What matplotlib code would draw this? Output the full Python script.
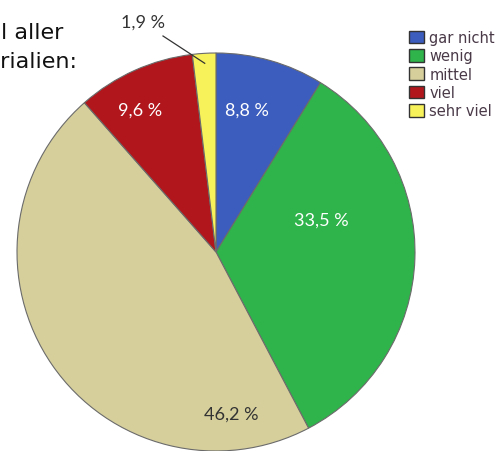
import numpy as np
import matplotlib.pyplot as plt
from matplotlib.patches import Patch

categories = ["gar nicht", "wenig", "mittel", "viel", "sehr viel"]
values = [8.8, 33.5, 46.2, 9.6, 1.9]
colors = ["#3c5cbe", "#2eb44a", "#d6cf9c", "#b0161c", "#f8f25a"]
title_lines = ["Anteil aller", "Materialien:"]

W, H = 501, 452
CX, CY, R = 216, 253, 199


def px(x, y):
    # pixel position (from top-left) -> data coords of the pie axes
    return (x - CX) / R, (CY - y) / R


fig = plt.figure(figsize=(W / 100, H / 100), dpi=100)
ax = fig.add_axes([0, 0, 1, 1])

wedges, _ = ax.pie(values, colors=colors, startangle=90, counterclock=False,
                   radius=1, center=(0, 0),
                   wedgeprops=dict(edgecolor="#6b6b6b", linewidth=0.8))
ax.set_aspect("auto")
ax.set_xlim(px(0, 0)[0], px(W, 0)[0])
ax.set_ylim(px(0, H)[1], px(0, 0)[1])
ax.axis("off")

# percentage labels
label_pos = [(247, 111), (321, 221), (231, 415), (140, 111), (143, 23)]
label_col = ["white", "white", "#333333", "white", "#333333"]
for v, (x, y), c in zip(values, label_pos, label_col):
    ax.text(*px(x, y), f"{v:.1f} %".replace(".", ","), color=c,
            family="Lato", fontsize=13, ha="center", va="center")

# leader line for the small slice
cum = np.cumsum([0] + values)
mid = 90 - (cum[-2] + values[-1] / 2) / 100 * 360
ex, ey = 0.95 * np.cos(np.radians(mid)), 0.95 * np.sin(np.radians(mid))
sx, sy = px(163, 37)
ax.plot([sx, ex], [sy, ey], color="#333333", lw=0.9)

# heading, running off the left edge
fig.text(63 / W, 1 - 39 / H, title_lines[0], ha="right", va="baseline",
         fontsize=16, color="#111111")
fig.text(78 / W, 1 - 68 / H, title_lines[1], ha="right", va="baseline",
         fontsize=16, color="#111111")

handles = [Patch(facecolor=c, edgecolor="#333333", lw=1) for c in colors]
fig.legend(handles, categories, loc="upper left",
           bbox_to_anchor=(409 / W, 1 - 31 / H), frameon=False,
           borderpad=0, borderaxespad=0, handlelength=1.0, handleheight=0.95,
           handletextpad=0.4, labelspacing=0.23, fontsize=10.5,
           labelcolor="#4a3a48")

fig.savefig("out.png", dpi=100)
